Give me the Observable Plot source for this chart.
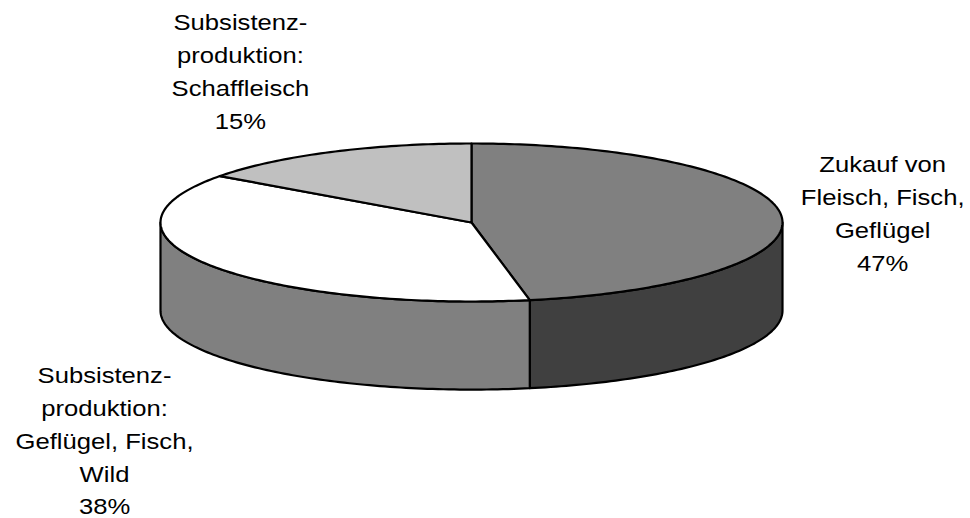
<!DOCTYPE html>
<html>
<head>
<meta charset="utf-8">
<script src="https://cdn.jsdelivr.net/npm/d3@7"></script>
<script src="https://cdn.jsdelivr.net/npm/@observablehq/plot@0.6"></script>
<style>
  html, body { margin: 0; padding: 0; background: #fff; }
  svg { display: block; }
</style>
</head>
<body>
<div id="chart"></div>
<script>
// Shares of meat supply (percent), clockwise from 12 o'clock
const categories = [
  "Zukauf von Fleisch, Fisch, Geflügel",
  "Subsistenzproduktion: Geflügel, Fisch, Wild",
  "Subsistenzproduktion: Schaffleisch"
];
const shares = [47, 38, 15];
const labels = [
  "Zukauf von\nFleisch, Fisch,\nGeflügel\n47%",
  "Subsistenz-\nproduktion:\nGeflügel, Fisch,\nWild\n38%",
  "Subsistenz-\nproduktion:\nSchaffleisch\n15%"
];

// Styling: top and side shades per slice
const topColors = ["#808080", "#ffffff", "#c0c0c0"];
const sideColors = ["#404040", "#808080", "#a0a0a0"];

// Layout in unit-ellipse coordinates (x right, y down)
const depth = 1.115;              // thickness of the pie in y units
const labelAnchors = [[1.322, -0.93], [-1.18, 1.74], [-0.743, -2.725]];

// Angles (degrees, clockwise from top) of each slice
const total = d3.sum(shares);
let acc = 0;
const slices = shares.map((v, i) => {
  const a0 = acc / total * 360;
  acc += v;
  const a1 = acc / total * 360;
  return {i, a0, a1};
});

const rad = (a) => a * Math.PI / 180;
const pt = (a, dy = 0) => ({x: Math.sin(rad(a)), y: -Math.cos(rad(a)) + dy});
function arc(a0, a1, dy = 0) {
  const n = Math.max(2, Math.ceil(Math.abs(a1 - a0)));
  return d3.range(n + 1).map((k) => pt(a0 + (a1 - a0) * k / n, dy));
}

// Side walls: only the front half (90°..270°) is visible
const sides = [];
slices.forEach((s) => {
  const b0 = Math.max(s.a0, 90), b1 = Math.min(s.a1, 270);
  if (b1 <= b0) return;
  const poly = [...arc(b0, b1), ...arc(b1, b0, depth)];
  poly.push(poly[0]);
  poly.forEach((p) => sides.push({...p, id: "side" + s.i, color: sideColors[s.i]}));
});

// Top faces: wedges from the centre
const tops = [];
slices.forEach((s) => {
  const poly = [{x: 0, y: 0}, ...arc(s.a0, s.a1), {x: 0, y: 0}];
  poly.forEach((p) => tops.push({...p, id: "top" + s.i, color: topColors[s.i]}));
});

const labelData = labels.map((t, i) => ({text: t, x: labelAnchors[i][0], y: labelAnchors[i][1]}));

const chart = Plot.plot({
  width: 970,
  height: 518,
  margin: 0,
  x: {domain: [-1, 1], range: [160, 782], axis: null},
  y: {domain: [-1, 1], range: [143, 301], axis: null},
  color: {type: "identity"},
  style: {background: "#fff"},
  marks: [
    Plot.line(sides, {x: "x", y: "y", z: "id", fill: "color", stroke: "#000", strokeWidth: 2.2, strokeLinejoin: "round", curve: "linear"}),
    Plot.line(tops, {x: "x", y: "y", z: "id", fill: "color", stroke: "#000", strokeWidth: 2.2, strokeLinejoin: "round", curve: "linear"}),
    Plot.text(labelData, {
      x: "x", y: "y", text: "text",
      lineAnchor: "top", lineHeight: 1.49,
      textAnchor: "middle",
      fontSize: 22, fill: "#000",
      fontFamily: "Arial, 'Liberation Sans', sans-serif"
    })
  ]
});

// Labels are drawn with a slightly wide typeface
chart.querySelectorAll('g[aria-label="text"] text').forEach((t) => {
  const tr = t.getAttribute("transform") || "";
  t.setAttribute("transform", tr + " scale(1.165,1)");
});

document.getElementById("chart").appendChild(chart);
</script>
</body>
</html>
